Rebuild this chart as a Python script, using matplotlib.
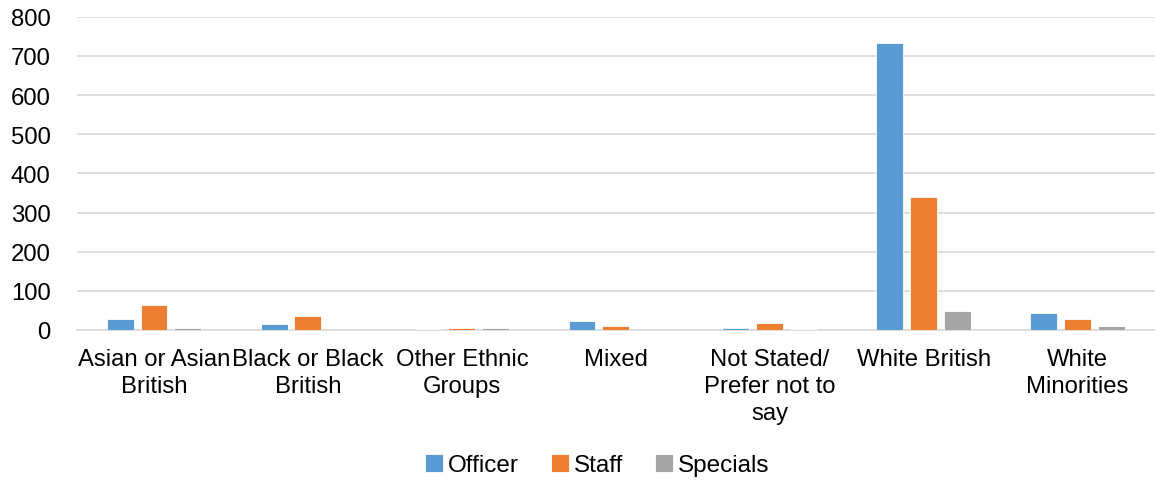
import numpy as np
import matplotlib.pyplot as plt

plt.rcParams['font.family'] = ['Liberation Sans', 'DejaVu Sans']

categories = ["Asian or Asian\nBritish", "Black or Black\nBritish", "Other Ethnic\nGroups",
              "Mixed", "Not Stated/\nPrefer not to\nsay", "White British", "White\nMinorities"]
officer = [28, 16, 2, 22, 6, 734, 43]
staff = [63, 35, 4, 10, 17, 340, 29]
specials = [4, 0, 4, 0, 2, 48, 9]

series = [("Officer", officer, "#5B9BD5"),
          ("Staff", staff, "#ED7D31"),
          ("Specials", specials, "#A5A5A5")]

fig = plt.figure(figsize=(11.55, 4.81), dpi=100)
ax = fig.add_axes([0.0667, 0.312, 0.933, 0.651])

x = np.arange(len(categories))
step = 0.22
width = 0.175
for i, (name, vals, color) in enumerate(series):
    ax.bar(x + (i - 1) * step, vals, width, color=color, label=name,
           edgecolor="white", linewidth=0.6, zorder=3)

ax.set_xlim(-0.5, len(categories) - 0.5)
ax.set_ylim(0, 800)
ax.set_yticks(range(0, 801, 100))
ax.set_xticks(x)
ax.set_xticklabels(categories, fontsize=17.2, linespacing=1.3)
ax.tick_params(axis='y', labelsize=17.2, length=0, pad=19)
ax.tick_params(axis='x', length=0, pad=13)
ax.grid(axis='y', color="#d9d9d9", linewidth=1.2, zorder=0)
for side in ["top", "right", "left"]:
    ax.spines[side].set_visible(False)
ax.spines["bottom"].set_color("#d9d9d9")
ax.spines["bottom"].set_linewidth(1.2)

fig.legend(loc="center", bbox_to_anchor=(0.517, 0.031), ncol=3, frameon=False,
           fontsize=17.5, handlelength=0.75, handleheight=0.75, handletextpad=0.2,
           columnspacing=1.3)

fig.savefig("out.png", dpi=100)
